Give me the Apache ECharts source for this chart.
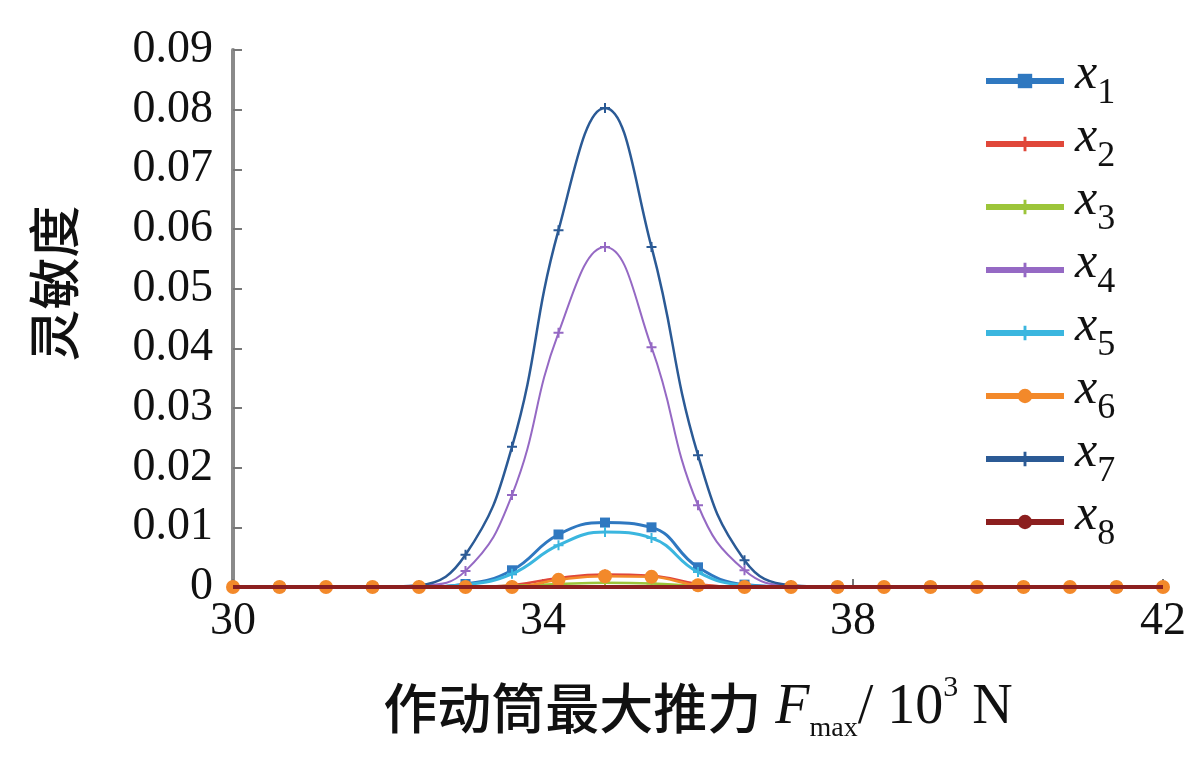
<!DOCTYPE html>
<html>
<head>
<meta charset="utf-8">
<script src="https://cdn.jsdelivr.net/npm/echarts@6/dist/echarts.min.js"></script>
<style>
html,body{margin:0;padding:0;background:#fff;}
#chart{width:1200px;height:765px;}
</style>
</head>
<body>
<div id="chart"></div>
<script>
// Force values F_max (10^3 N), marker positions
const forceValues = [30, 30.6, 31.2, 31.8, 32.4, 33.0, 33.6, 34.2, 34.8, 35.4, 36.0, 36.6, 37.2, 37.8, 38.4, 39.0, 39.6, 40.2, 40.8, 41.4, 42];
const xTickValues = [30, 34, 38, 42];
const xTickLabels = ['30', '34', '38', '42'];
const yTickLabels = ['0', '0.01', '0.02', '0.03', '0.04', '0.05', '0.06', '0.07', '0.08', '0.09'];
const seriesNames = ['x1', 'x2', 'x3', 'x4', 'x5', 'x6', 'x7', 'x8'];

const x1 = [0, 0, 0, 0, 0, 0.0005, 0.0028, 0.0088, 0.0108, 0.0100, 0.0033, 0.0004, 0, 0, 0, 0, 0, 0, 0, 0, 0];
const x2 = [0, 0, 0, 0, 0, 0, 0.0003, 0.0015, 0.0021, 0.0019, 0.0005, 0, 0, 0, 0, 0, 0, 0, 0, 0, 0];
const x3 = [0, 0, 0, 0, 0, 0, 0.0002, 0.0005, 0.0007, 0.0006, 0.0002, 0, 0, 0, 0, 0, 0, 0, 0, 0, 0];
const x4 = [0, 0, 0, 0, 0.0002, 0.0027, 0.0154, 0.0426, 0.0570, 0.0402, 0.0137, 0.0028, 0.0002, 0, 0, 0, 0, 0, 0, 0, 0];
const x5 = [0, 0, 0, 0, 0, 0.0004, 0.0022, 0.0070, 0.0092, 0.0082, 0.0025, 0.0003, 0, 0, 0, 0, 0, 0, 0, 0, 0];
const x6 = [0, 0, 0, 0, 0, 0, 0, 0.0012, 0.0018, 0.0017, 0.0003, 0, 0, 0, 0, 0, 0, 0, 0, 0, 0];
const x7 = [0, 0, 0, 0, 0.0003, 0.0054, 0.0235, 0.0598, 0.0803, 0.0570, 0.0221, 0.0045, 0.0003, 0, 0, 0, 0, 0, 0, 0, 0];
const x8 = [0, 0, 0, 0, 0, 0, 0, 0, 0, 0, 0, 0, 0, 0, 0, 0, 0, 0, 0, 0, 0];

const seriesValues = [x1, x2, x3, x4, x5, x6, x7, x8];
const colors = ['#2f78c0', '#e0473a', '#9cc53a', '#9569c4', '#3bb6df', '#f3892a', '#2b5a95', '#8c1f1f'];
const PLUS = 'path://M4,0h2v4h4v2h-4v4h-2v-4h-4v-2h4z';
const symbols = ['rect', PLUS, PLUS, PLUS, PLUS, 'circle', PLUS, 'none'];
const symbolSizes = [10, 10, 10, 10, 10, 14, 10, 0];
const widths = [3, 2.5, 2.5, 2, 3, 2.5, 2.5, 4];
const drawOrder = [0, 1, 2, 3, 4, 6, 5, 7];

const chart = echarts.init(document.getElementById('chart'));
const serif = 'Liberation Serif, Times New Roman, serif';
const cjk = 'Noto Sans CJK SC';

const series = drawOrder.map(function (i, z) {
  return {
    name: seriesNames[i],
    type: 'line',
    smooth: 0.45,
    data: forceValues.map(function (f, k) { return [f, seriesValues[i][k]]; }),
    symbol: symbols[i],
    symbolSize: symbolSizes[i],
    showSymbol: symbols[i] !== 'none',
    color: colors[i],
    lineStyle: { width: widths[i], color: colors[i] },
    itemStyle: { color: colors[i] },
    z: 2 + z
  };
});

chart.setOption({
  animation: false,
  backgroundColor: '#ffffff',
  grid: { left: 233, right: 37, top: 50, bottom: 178, containLabel: false },
  legend: {
    orient: 'vertical',
    left: 978,
    top: 45,
    itemWidth: 78,
    itemHeight: 18,
    itemGap: 1,
    data: seriesNames,
    lineStyle: { width: 6 },
    formatter: function (name) { return '{v|x}{s|' + name.slice(1) + '}'; },
    textStyle: {
      padding: [0, 0, 0, 6],
      rich: {
        v: { fontFamily: serif, fontStyle: 'italic', fontSize: 50, lineHeight: 62, color: '#111', verticalAlign: 'top' },
        s: { fontFamily: serif, fontSize: 36, lineHeight: 62, color: '#111', verticalAlign: 'bottom' }
      }
    }
  },
  xAxis: {
    type: 'value',
    min: 30,
    max: 42,
    interval: 4,
    axisLine: { show: true, onZero: false, lineStyle: { color: '#333', width: 2 } },
    axisTick: { show: true, inside: true, length: 8, lineStyle: { color: '#777', width: 2 } },
    splitLine: { show: false },
    axisLabel: {
      margin: 12,
      fontFamily: serif,
      fontSize: 46,
      color: '#111',
      formatter: function (v) { const i = xTickValues.indexOf(v); return i >= 0 ? xTickLabels[i] : ''; }
    },
    name: '{cn|作动筒最大推力}{it| F}{sub|max}{n|/ 10}{sup|3}{n| N}',
    nameLocation: 'middle',
    nameGap: 86,
    nameTextStyle: {
      rich: {
        cn: { fontFamily: cjk, fontWeight: 500, fontSize: 54, color: '#111', lineHeight: 70, verticalAlign: 'middle' },
        it: { fontFamily: serif, fontStyle: 'italic', fontSize: 56, color: '#111', lineHeight: 70, verticalAlign: 'middle' },
        sub: { fontFamily: serif, fontSize: 28, color: '#111', lineHeight: 70, verticalAlign: 'bottom' },
        sup: { fontFamily: serif, fontSize: 30, color: '#111', lineHeight: 70, verticalAlign: 'top' },
        n: { fontFamily: serif, fontSize: 56, color: '#111', lineHeight: 70, verticalAlign: 'middle' }
      }
    }
  },
  yAxis: {
    type: 'value',
    min: 0,
    max: 0.09,
    interval: 0.01,
    axisLine: { show: true, lineStyle: { color: '#8a8a8a', width: 4 } },
    axisTick: { show: true, inside: true, length: 9, lineStyle: { color: '#777', width: 2 } },
    splitLine: { show: false },
    axisLabel: {
      margin: 20,
      fontFamily: serif,
      fontSize: 46,
      color: '#111',
      formatter: function (v) { return yTickLabels[Math.round(v * 100)]; }
    },
    name: '灵敏度',
    nameLocation: 'middle',
    nameRotate: 90,
    nameGap: 153,
    nameTextStyle: { fontFamily: cjk, fontWeight: 500, fontSize: 52, color: '#111', padding: [0, 0, 0, 70] }
  },
  series: series
});
</script>
</body>
</html>
